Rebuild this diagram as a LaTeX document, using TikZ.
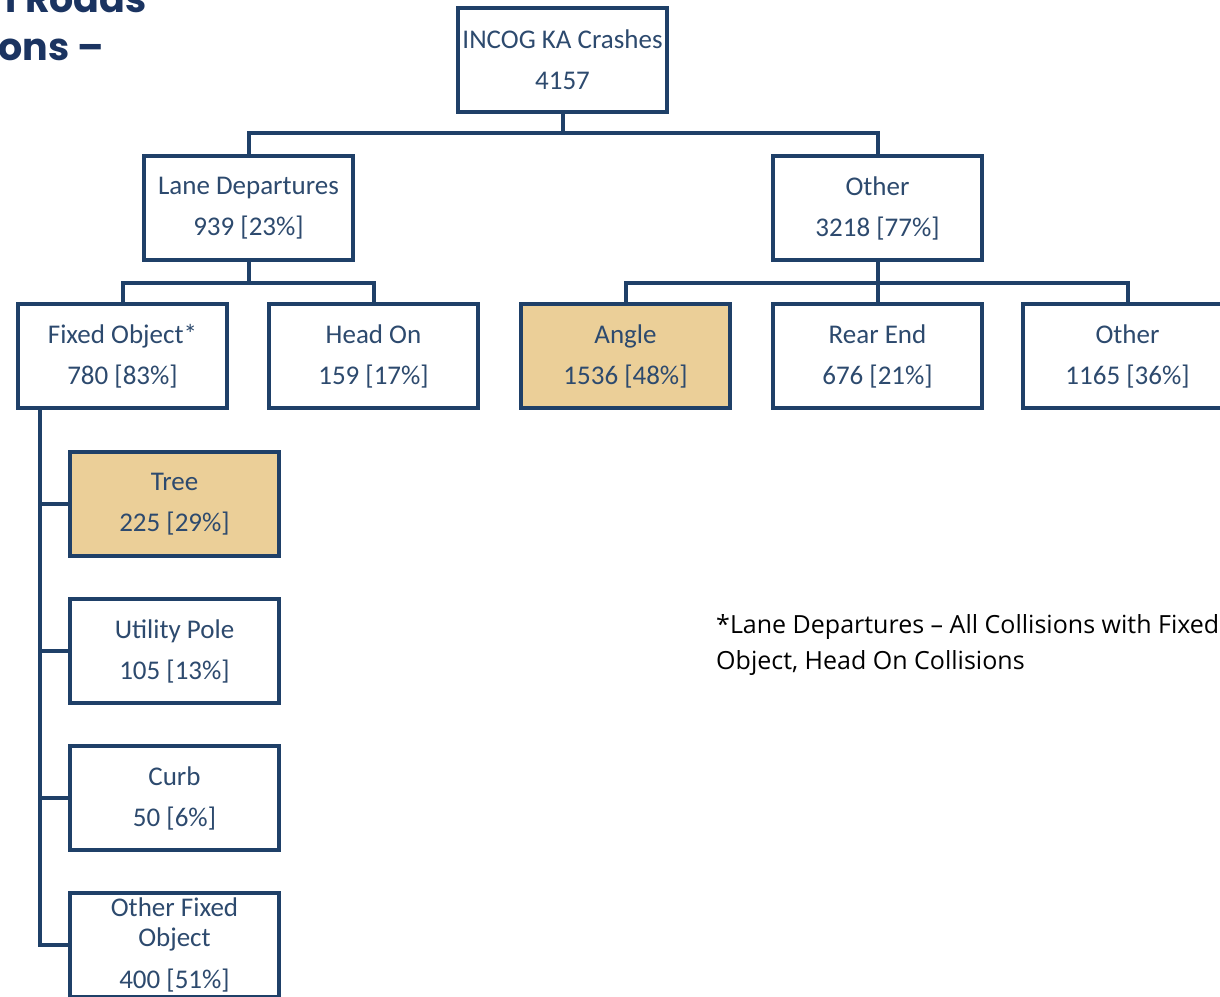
\documentclass[tikz,border=0pt]{standalone}
\usepackage{fontspec}
\setmainfont{Carlito}
\newfontfamily\notefont{Open Sans}
\newfontfamily\titlefont{Poppins}
\definecolor{navy}{HTML}{1F4068}
\definecolor{boxtext}{HTML}{2D4A6E}
\definecolor{tan}{HTML}{EBCF98}
\definecolor{titlenavy}{HTML}{1B3461}
\tikzset{
  box/.style={draw=navy, line width=4pt, minimum width=209pt, minimum height=104pt,
    inner sep=0pt, align=center, text=boxtext, font=\fontsize{27}{41}\selectfont, fill=white},
  hl/.style={fill=tan},
  conn/.style={draw=navy, line width=4pt, line join=miter}
}
\begin{document}
\begin{tikzpicture}[x=1pt,y=-1pt]
\useasboundingbox[fill=white] (0,0) rectangle (1220,996);
% title fragment
\node[anchor=base east, inner sep=0pt, text=titlenavy, font=\titlefont\bfseries\fontsize{38}{40}\selectfont] (t1) at (147,12) {l Roads};
\node[anchor=base west, inner sep=0pt, text=titlenavy, font=\titlefont\bfseries\fontsize{38}{40}\selectfont] (t2) at (-2,60) {ons –};
% junctions
\coordinate (j1) at (562.5,133);
\coordinate (j2) at (248.5,283);
\coordinate (j3) at (877.5,283);
\coordinate (trunk) at (40,408);
\node[box] (top) at (562.5,60) {INCOG KA Crashes\\4157};
\node[box] (lane) at (248.5,208) {Lane Departures\\939 [23\%]};
\node[box] (oth) at (877.5,208) {Other\\3218 [77\%]};
\node[box] (fixed) at (122.5,356) {Fixed Object*\\780 [83\%]};
\node[box] (head) at (373.5,356) {Head On\\159 [17\%]};
\node[box,hl] (angle) at (625.5,356) {Angle\\1536 [48\%]};
\node[box] (rear) at (877.5,356) {Rear End\\676 [21\%]};
\node[box] (oth2) at (1127.5,356) {Other\\1165 [36\%]};
\node[box,hl] (tree) at (174.5,504) {Tree\\225 [29\%]};
\node[box] (util) at (174.5,651) {Utility Pole\\105 [13\%]};
\node[box] (curb) at (174.5,798) {Curb\\50 [6\%]};
\node[box, font=\fontsize{27}{30}\selectfont] (ofo) at (174.5,945) {Other Fixed\\Object\\[12pt]400 [51\%]};
\draw[conn] (top.south) -- (j1) -| (lane.north);
\draw[conn] (j1) -| (oth.north);
\draw[conn] (lane.south) -- (j2) -| (fixed.north);
\draw[conn] (j2) -| (head.north);
\draw[conn] (oth.south) -- (j3) -| (angle.north);
\draw[conn] (j3) -- (rear.north);
\draw[conn] (j3) -| (oth2.north);
\draw[conn] (trunk) |- (tree.west);
\draw[conn] (trunk) |- (util.west);
\draw[conn] (trunk) |- (curb.west);
\draw[conn] (trunk) |- (ofo.west);
\node[anchor=base west, inner sep=0pt, align=left, text=black, font=\notefont\fontsize{25}{36}\selectfont] (note) at (716,669) {*Lane Departures – All Collisions with Fixed\\Object, Head On Collisions};
\end{tikzpicture}
\end{document}
